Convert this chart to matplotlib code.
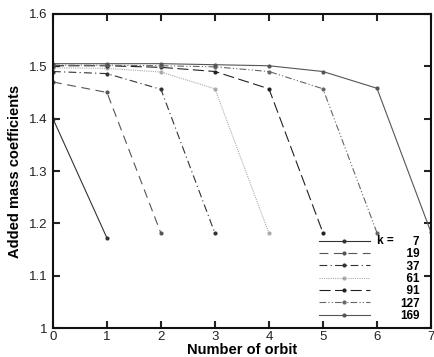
import matplotlib
matplotlib.use("Agg")
import matplotlib.pyplot as plt

plt.rcParams['font.family'] = ['Liberation Sans', 'DejaVu Sans']

# orbit numbers and added mass coefficient per k
orbits = [0, 1, 2, 3, 4, 5, 6, 7]
k_values = ["7", "19", "37", "61", "91", "127", "169"]
coef_k7 = [1.40, 1.172]
coef_k19 = [1.47, 1.45, 1.181]
coef_k37 = [1.49, 1.486, 1.456, 1.181]
coef_k61 = [1.497, 1.496, 1.489, 1.457, 1.181]
coef_k91 = [1.501, 1.501, 1.498, 1.49, 1.457, 1.182]
coef_k127 = [1.502, 1.502, 1.501, 1.499, 1.49, 1.457, 1.182]
coef_k169 = [1.505, 1.505, 1.505, 1.503, 1.501, 1.49, 1.458, 1.183]

series = [coef_k7, coef_k19, coef_k37, coef_k61, coef_k91, coef_k127, coef_k169]
colors = ['#333333', '#555555', '#333333', '#aaaaaa', '#222222', '#666666', '#555555']
styles = ['-', (0, (8, 5)), (0, (7, 3, 1, 3)), (0, (1, 1)), (0, (10, 4)),
          (0, (6, 2, 1, 2, 1, 2)), '-']

fig = plt.figure(figsize=(4.34, 3.57), dpi=100)
ax = fig.add_axes([0.122, 0.081, 0.871, 0.880])

for k, vals, c, ls in zip(k_values, series, colors, styles):
    ax.plot(orbits[:len(vals)], vals, color=c, linestyle=ls, linewidth=0.8,
            marker='o', markersize=3, markeredgewidth=0, label=k)

ax.set_xlim(0, 7)
ax.set_ylim(1.0, 1.6)
ax.set_xticks(orbits)
ax.set_yticks([1.0, 1.1, 1.2, 1.3, 1.4, 1.5, 1.6])
ax.set_yticklabels(['1', '1.1', '1.2', '1.3', '1.4', '1.5', '1.6'])
ax.tick_params(direction='in', length=5, width=1.5, top=True, right=True,
               labelsize=9.5, colors='#222222')
ax.tick_params(axis='x', pad=2)
ax.tick_params(axis='y', pad=4)
for s in ax.spines.values():
    s.set_linewidth(1.5)
    s.set_color('#111111')

ax.set_xlabel('Number of orbit', fontsize=10.5, fontweight='bold', labelpad=0)
ax.set_ylabel('Added mass coefficients', fontsize=10.5, fontweight='bold', labelpad=5)

# right-align numbers by padding (digit = two spaces)
width = max(len(k) for k in k_values)
labels = [' ' * (2 * (width - len(k))) + k for k in k_values]
handles, _ = ax.get_legend_handles_labels()
leg = ax.legend(handles, labels, loc='lower right', bbox_to_anchor=(0.99, -0.003),
                frameon=False, handlelength=4.3, handletextpad=2.6,
                labelspacing=0.03, borderpad=0.1,
                prop={'weight': 'bold', 'size': 8.5})
ax.text(0.857, 0.277, 'k =', transform=ax.transAxes, fontsize=8.5,
        fontweight='bold', ha='left', va='center')

fig.savefig('out.png', dpi=100)
